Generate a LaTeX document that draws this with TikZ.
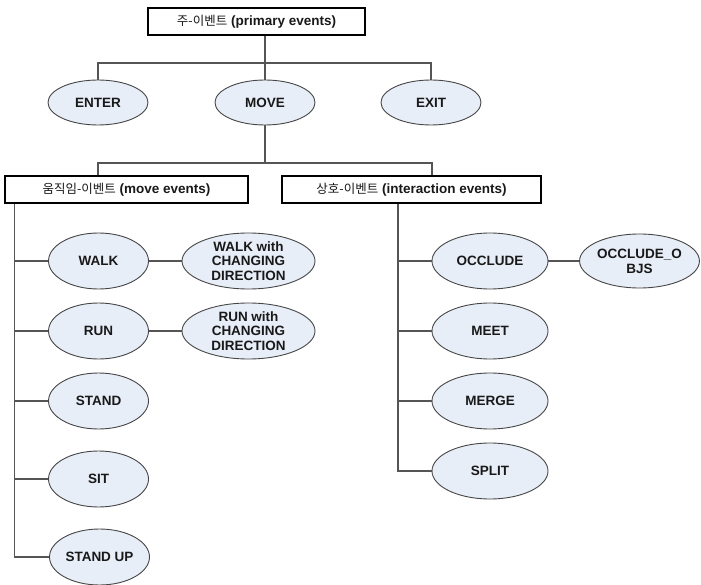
\documentclass[tikz,border=0pt]{standalone}
\usepackage{fontspec}
\setmainfont{Liberation Sans}
\newfontfamily\kr{Noto Sans CJK KR}
\usetikzlibrary{shapes.geometric}
\definecolor{efill}{RGB}{232,238,248}
\definecolor{edraw}{RGB}{70,70,70}
\definecolor{lcol}{RGB}{85,85,85}
\definecolor{tcol}{RGB}{25,25,25}
\begin{document}
\begin{tikzpicture}[x=1pt,y=-1pt,
  ev/.style={ellipse,draw=edraw,fill=efill,line width=0.9pt,inner sep=0pt,
     minimum width=100pt,minimum height=56pt,text=tcol,
     font=\fontsize{13.5}{14.2}\selectfont\bfseries,align=center},
  catbox/.style={draw=black,line width=1.3pt,fill=white,inner sep=0pt,
     text=tcol,font=\fontsize{13.5}{15}\selectfont},
  conn/.style={draw=lcol,line width=1.1pt}]
\useasboundingbox (0,0) rectangle (701,585);
% top box
\node[catbox,minimum width=217pt,minimum height=27pt] (prim) at (256.5,21.5) {{\kr\fontsize{12.5}{15}\selectfont 주-이벤트} \textbf{(primary events)}};
\node[ev,minimum height=45pt] (enter) at (98,102.5) {ENTER};
\node[ev,minimum height=45pt] (move) at (265,102.5) {MOVE};
\node[ev,minimum height=45pt] (exit) at (431,102.5) {EXIT};
\coordinate (j1) at (265,63);
\draw[conn] (prim.south -| move.north) -- (move.north);
\draw[conn] (enter.north) |- (j1) -| (exit.north);
% category boxes
\node[catbox,minimum width=243pt,minimum height=27pt] (mev) at (126.5,189.5) {{\kr\fontsize{12.5}{15}\selectfont 움직임-이벤트} \textbf{(move events)}};
\node[catbox,minimum width=259pt,minimum height=27pt] (iev) at (411.5,189.5) {{\kr\fontsize{12.5}{15}\selectfont 상호-이벤트} \textbf{(interaction events)}};
\coordinate (j2) at (265,163);
\draw[conn] (move.south) -- (j2);
\draw[conn] ([xshift=-28.5pt]mev.north) |- (j2) -| ([xshift=20.5pt]iev.north);
% move events
\node[ev] (walk) at (98.5,261) {WALK};
\node[ev] (run) at (98.5,331) {RUN};
\node[ev] (stand) at (98.5,401) {STAND};
\node[ev] (sit) at (98.5,479) {SIT};
\node[ev] (standup) at (99.5,557) {STAND UP};
\node[ev,minimum width=133pt] (walkcd) at (248.5,261) {WALK with\\CHANGING\\DIRECTION};
\node[ev,minimum width=133pt] (runcd) at (248.5,331) {RUN with\\CHANGING\\DIRECTION};
\coordinate (lt) at ([xshift=10pt]mev.south west);
\draw[conn] (lt) |- (standup.west);
\draw[conn] (walk.west) -- (walk.west -| lt);
\draw[conn] (run.west) -- (run.west -| lt);
\draw[conn] (stand.west) -- (stand.west -| lt);
\draw[conn] (sit.west) -- (sit.west -| lt);
\draw[conn] (walk.east) -- (walkcd.west);
\draw[conn] (run.east) -- (runcd.west);
% interaction events
\node[ev,minimum width=116pt] (occ) at (490,261) {OCCLUDE};
\node[ev,minimum width=116pt] (meet) at (490,331) {MEET};
\node[ev,minimum width=116pt] (merge) at (490,401) {MERGE};
\node[ev,minimum width=116pt] (split) at (490,471) {SPLIT};
\node[ev,minimum width=115pt,minimum height=54pt] (occo) at (639.5,261) {OCCLUDE\_O\\[1pt]BJS};
\coordinate (rt) at ([xshift=-13.5pt]iev.south);
\draw[conn] (rt) |- (split.west);
\draw[conn] (occ.west) -- (occ.west -| rt);
\draw[conn] (meet.west) -- (meet.west -| rt);
\draw[conn] (merge.west) -- (merge.west -| rt);
\draw[conn] (occ.east) -- (occo.west);
\end{tikzpicture}
\end{document}
